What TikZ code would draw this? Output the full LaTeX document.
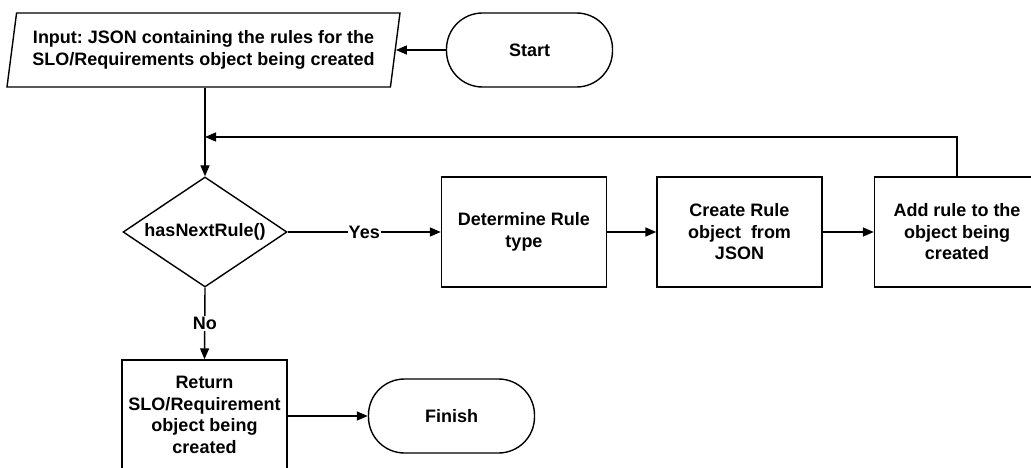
\documentclass[tikz,border=0pt]{standalone}
\usepackage{fontspec}
\setmainfont{Liberation Sans}
\frenchspacing
\usetikzlibrary{shapes.geometric,arrows.meta}
\begin{document}
\begin{tikzpicture}[x=1pt,y=-1pt,
  every node/.style={font=\fontsize{18}{21.5}\selectfont\bfseries, align=center, line width=1.4pt},
  procbox/.style={draw, rectangle, minimum width=165pt, minimum height=110pt, inner sep=0pt},
  termbox/.style={draw, rectangle, rounded corners=36pt, minimum width=166pt, minimum height=74pt, inner sep=0pt},
  iobox/.style={draw, trapezium, trapezium left angle=76, trapezium right angle=104, trapezium stretches body, minimum width=393pt, minimum height=74pt, inner sep=0pt},
  decbox/.style={draw, diamond, aspect=1.49, minimum width=164pt, minimum height=110pt, inner sep=0pt},
  arr/.style={line width=1.4pt, -{Triangle[length=11pt,width=9pt]}},
  lbl/.style={fill=white, inner sep=1pt}
]
\useasboundingbox (0,0) rectangle (1031,468);
\fill[white] (0,0) rectangle (1031,468);

\node[iobox] (in) at (203.5,50) {\frenchspacing Input: JSON containing the rules for the\\SLO/Requirements object being created};
\node[termbox] (start) at (529.5,50) {Start};
\node[decbox] (dia) at (205,232) {hasNextRule()};
\node[procbox] (det) at (524,232) {Determine Rule\\type};
\node[procbox] (cre) at (739.5,232) {Create Rule\\object\ \ from\\JSON};
\node[procbox] (add) at (957,232) {Add rule to the\\object being\\created};
\node[procbox] (ret) at (204.5,415) {Return\\SLO/Requirement\\object being\\created};
\node[termbox] (fin) at (451.5,416) {Finish};
\coordinate (fb) at (205,137);

\draw[arr] (start.west) -- (in.east);
\draw[arr] (dia.north |- in.south) -- (dia.north);
\draw[arr] (add.north) |- (fb);
\draw[arr] (dia.east) -- node[lbl] {Yes} (det.west);
\draw[arr] (det.east) -- (cre.west);
\draw[arr] (cre.east) -- (add.west);
\draw[arr] (dia.south) -- node[lbl] {No} (ret.north);
\draw[arr] (ret.east |- fin.west) -- (fin.west);
\end{tikzpicture}
\end{document}
